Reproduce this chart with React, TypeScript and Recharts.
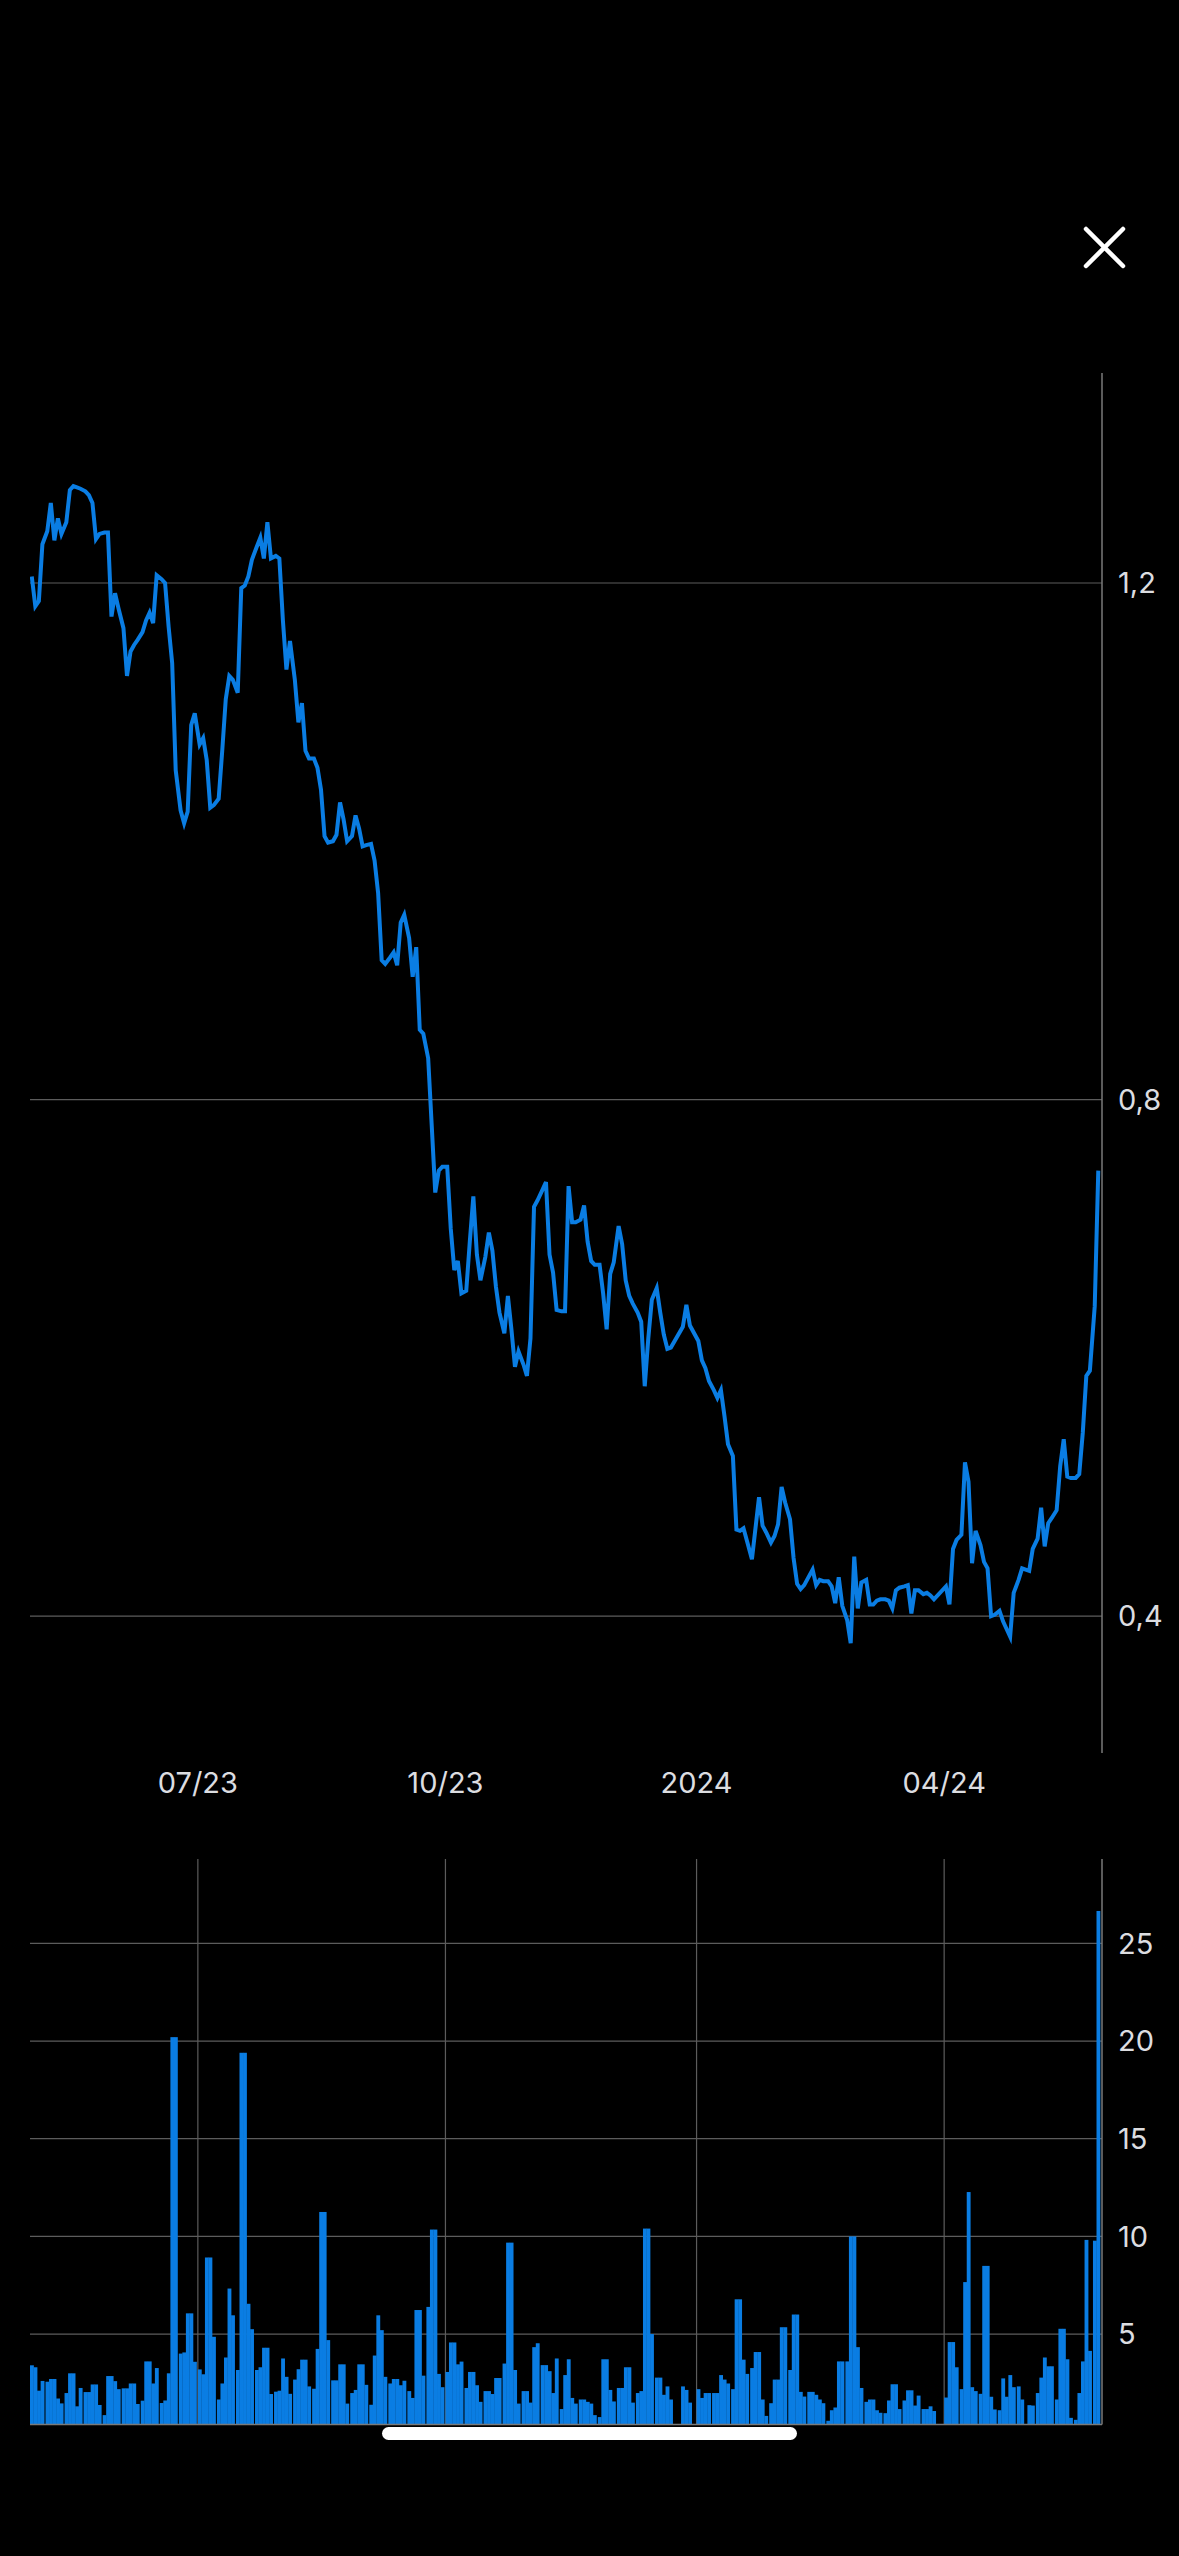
import React from 'react';
import { LineChart, Line, BarChart, Bar, XAxis, YAxis, CartesianGrid } from 'recharts';

const FIRST_DAY = '2023-05-02';
const LAST_DAY = '2024-05-28';
// exchange holidays inside the range (no quote, no volume)
const HOLIDAYS = ['2023-12-25', '2023-12-26', '2024-01-01', '2024-03-29', '2024-04-01', '2024-05-01'];

const QUARTER_STARTS = ['2023-07-03', '2023-10-02', '2024-01-02', '2024-04-02'];
const QUARTER_LABELS = ['07/23', '10/23', '2024', '04/24'];

const PRICE_TICKS = [0.4, 0.8, 1.2];
const VOLUME_TICKS = [5, 10, 15, 20, 25];

// closing prices, one per trading day
const priceQ2_23 = [
  1.205, 1.182, 1.186, 1.23,
  1.24, 1.262, 1.233, 1.25, 1.238,
  1.247, 1.272, 1.275, 1.274, 1.273,
  1.271, 1.268, 1.262, 1.234, 1.238,
  1.239, 1.239, 1.174, 1.192, 1.18,
  1.165, 1.128, 1.147, 1.152, 1.156,
  1.162, 1.171, 1.177, 1.169, 1.206,
  1.203, 1.2, 1.166, 1.138, 1.055,
  1.024, 1.014, 1.023, 1.09, 1.099,
];
const priceQ3_23 = [
  1.075, 1.08, 1.063, 1.026, 1.028,
  1.033, 1.07, 1.11, 1.128, 1.125,
  1.115, 1.196, 1.198, 1.205, 1.218,
  1.228, 1.235, 1.219, 1.247, 1.219,
  1.221, 1.219, 1.171, 1.133, 1.155,
  1.125, 1.092, 1.107, 1.07, 1.064,
  1.064, 1.057, 1.04, 1.004, 0.999,
  1.0, 1.005, 1.03, 1.017, 1.0,
  1.004, 1.02, 1.01, 0.996, 0.997,
  0.998, 0.985, 0.96, 0.908, 0.905,
  0.91, 0.914, 0.904, 0.937, 0.943,
  0.925, 0.895, 0.918, 0.854, 0.851,
  0.832, 0.78, 0.728, 0.745, 0.748,
];
const priceQ4_23 = [
  0.748, 0.7, 0.668, 0.675, 0.65,
  0.652, 0.69, 0.725, 0.68, 0.66,
  0.678, 0.697, 0.683, 0.655, 0.635,
  0.619, 0.648, 0.622, 0.593, 0.605,
  0.595, 0.586, 0.615, 0.717, 0.722,
  0.73, 0.736, 0.68, 0.666, 0.637,
  0.636, 0.636, 0.733, 0.705, 0.705,
  0.707, 0.718, 0.69, 0.675, 0.672,
  0.672, 0.65, 0.622, 0.665, 0.674,
  0.702, 0.688, 0.66, 0.648, 0.642,
  0.635, 0.628, 0.578, 0.615, 0.645,
  0.654, 0.635, 0.618, 0.607, 0.608,
  0.624, 0.641, 0.625,
];
const priceQ1_24 = [
  0.613, 0.598, 0.592, 0.582,
  0.575, 0.569, 0.575, 0.555, 0.533,
  0.524, 0.467, 0.466, 0.468, 0.458,
  0.444, 0.468, 0.492, 0.47, 0.465,
  0.457, 0.462, 0.471, 0.5, 0.488,
  0.475, 0.445, 0.425, 0.421, 0.424,
  0.431, 0.436, 0.424, 0.428, 0.427,
  0.427, 0.423, 0.41, 0.43, 0.408,
  0.397, 0.379, 0.446, 0.406, 0.426,
  0.428, 0.409, 0.409, 0.412, 0.413,
  0.413, 0.412, 0.406, 0.42, 0.422,
  0.423, 0.424, 0.402, 0.42, 0.42,
  0.417, 0.418, 0.416, 0.413,
];
const priceQ2_24 = [
  0.423, 0.409, 0.452, 0.459,
  0.463, 0.519, 0.504, 0.441, 0.466,
  0.455, 0.442, 0.437, 0.4, 0.401,
  0.404, 0.396, 0.39, 0.384, 0.418,
  0.428, 0.437, 0.435, 0.452,
  0.46, 0.484, 0.454, 0.472, 0.476,
  0.482, 0.516, 0.537, 0.508, 0.507,
  0.507, 0.51, 0.542, 0.586, 0.59,
  0.64, 0.745,
];

// traded volume (millions), one per trading day
const volumeQ2_23 = [
  3.4, 3.3, 2.1, 2.6,
  2.56, 2.7, 2.7, 1.7, 1.45,
  1.98, 2.99, 2.99, 1.3, 2.24,
  2.03, 2.03, 2.42, 2.42, 1.37,
  0.85, 2.85, 2.85, 2.59, 2.18,
  2.22, 2.22, 2.47, 2.47, 1.42,
  1.59, 3.6, 3.6, 2.47, 3.26,
  1.47, 1.6, 2.99, 20.2, 20.2,
  4.0, 4.06, 6.06, 6.06, 3.58,
];
const volumeQ3_23 = [
  3.19, 2.94, 8.92, 8.92, 4.86,
  1.65, 2.47, 3.8, 7.33, 5.96,
  3.16, 19.4, 19.4, 6.55, 5.25,
  3.16, 3.3, 4.3, 4.3, 1.93,
  2.05, 2.1, 3.75, 2.81, 1.94,
  2.67, 3.2, 3.69, 3.69, 2.32,
  2.2, 4.24, 11.25, 11.25, 4.69,
  2.63, 2.63, 3.45, 3.45, 1.44,
  1.98, 2.14, 3.45, 3.45, 2.4,
  1.38, 3.9, 5.96, 5.2, 2.81,
  2.47, 2.7, 2.7, 2.38, 2.61,
  2.08, 1.73, 6.23, 6.23, 2.87,
  6.39, 10.35, 10.35, 2.96, 2.28,
];
const volumeQ4_23 = [
  3.06, 4.57, 4.57, 3.45, 3.59,
  2.24, 3.06, 3.06, 2.38, 1.53,
  2.08, 2.08, 1.93, 2.75, 2.75,
  3.49, 9.68, 9.68, 3.16, 1.44,
  2.08, 2.08, 1.49, 4.33, 4.53,
  3.41, 3.41, 3.1, 1.98, 3.75,
  1.16, 2.9, 3.71, 1.73, 1.44,
  1.65, 1.65, 1.53, 1.44, 0.85,
  0.75, 3.71, 3.71, 2.14, 1.55,
  2.24, 2.24, 3.3, 3.3, 1.49,
  1.98, 2.08, 10.4, 10.4, 5.0,
  2.77, 2.77, 1.89, 2.32, 1.65,
  2.32, 2.14, 1.49,
];
const volumeQ1_24 = [
  2.18, 1.73, 1.98, 1.98,
  1.98, 1.98, 2.9, 2.67, 2.47,
  2.18, 6.78, 6.78, 3.69, 2.96,
  3.26, 4.08, 4.08, 1.65, 0.81,
  1.46, 2.67, 2.67, 5.35, 5.35,
  3.16, 6.0, 6.0, 2.04, 1.8,
  2.04, 2.04, 1.89, 1.65, 1.46,
  0.56, 1.1, 1.24, 3.6, 3.6,
  3.6, 10.0, 10.0, 4.33, 2.24,
  1.53, 1.65, 1.65, 1.1, 0.97,
  0.95, 1.6, 2.43, 2.43, 1.16,
  1.6, 2.12, 2.12, 1.34, 1.85,
  1.16, 1.16, 1.3, 1.06,
];
const volumeQ2_24 = [
  1.75, 4.59, 4.59, 3.3,
  2.18, 7.66, 12.27, 2.28, 2.08,
  1.94, 8.49, 8.49, 1.79, 1.14,
  1.1, 2.73, 1.79, 2.9, 2.28,
  2.32, 1.65, 1.36, 1.34,
  1.98, 2.77, 3.8, 3.35, 3.35,
  1.65, 5.27, 5.27, 3.71, 0.71,
  0.61, 1.98, 3.6, 9.82, 4.14,
  9.78, 26.66,
];

const BLUE = '#0a7de3';
const GRID = '#5c5c5c';
const AXIS = '#7a7a7a';
const LABEL = '#dcdde0';
const FONT = 'Inter, "Noto Sans", sans-serif';

// the app squeezes each weekend into a thin gap: 5 day slots + ~0.38 slot per week
const WEEK_SLOTS = 5.376;
const DAY_MS = 86400000;
const WEEK0 = Date.UTC(2023, 4, 1);

function slotOf(iso: string) {
  const t = Date.parse(iso + 'T00:00:00Z');
  const week = Math.floor((t - WEEK0) / (7 * DAY_MS));
  const wd = (new Date(t).getUTCDay() + 6) % 7;
  return week * WEEK_SLOTS + wd;
}

function tradingDays() {
  const out: string[] = [];
  const end = Date.parse(LAST_DAY + 'T00:00:00Z');
  for (let t = Date.parse(FIRST_DAY + 'T00:00:00Z'); t <= end; t += DAY_MS) {
    const iso = new Date(t).toISOString().slice(0, 10);
    const wd = new Date(t).getUTCDay();
    if (wd === 0 || wd === 6 || HOLIDAYS.includes(iso)) continue;
    out.push(iso);
  }
  return out;
}

const prices = [...priceQ2_23, ...priceQ3_23, ...priceQ4_23, ...priceQ1_24, ...priceQ2_24];
const volumes = [...volumeQ2_23, ...volumeQ3_23, ...volumeQ4_23, ...volumeQ1_24, ...volumeQ2_24];

const data = tradingDays().map((date, i) => ({
  date,
  u: slotOf(date),
  price: prices[i],
  volume: volumes[i],
}));

const X_DOMAIN: [number, number] = [data[0].u - 0.5, data[data.length - 1].u + 1.05];
const X_TICKS = QUARTER_STARTS.map((d) => slotOf(d) - 0.5);

const XTick = (props: any) => {
  const { x, y, payload } = props;
  const idx = X_TICKS.findIndex((t) => Math.abs(t - payload.value) < 0.01);
  return (
    <text x={x} y={y + 30} dy="0.35em" textAnchor="middle" fill={LABEL} fontSize={29} fontFamily={FONT}>
      {QUARTER_LABELS[idx]}
    </text>
  );
};

// volume chart keeps the quarter ticks (for its vertical grid) but shows no labels
const NoTick = () => <g />;

const PriceTick = (props: any) => {
  const { x, y, payload } = props;
  return (
    <text x={x} y={y} dy="0.35em" textAnchor="start" fill={LABEL} fontSize={29} fontFamily={FONT}>
      {Number(payload.value).toFixed(1).replace('.', ',')}
    </text>
  );
};

const VolumeTick = (props: any) => {
  const { x, y, payload } = props;
  return (
    <text x={x} y={y} dy="0.35em" textAnchor="start" fill={LABEL} fontSize={29} fontFamily={FONT}>
      {payload.value}
    </text>
  );
};

// bars within a week touch each other, so widen each one a hair to hide seams
const VolumeBar = (props: any) => {
  const { x, y, width, height } = props;
  if (!height || height <= 0) return null;
  return <rect x={x} y={y} width={width + 0.35} height={height} fill={BLUE} />;
};

export default function App() {
  return (
    <div style={{ position: 'relative', width: 1179, height: 2556, background: '#000', overflow: 'hidden' }}>
      <style>{'body{margin:0;background:#000}'}</style>

      {/* close button */}
      <svg style={{ position: 'absolute', left: 1080, top: 223 }} width={50} height={50}>
        <line x1={6} y1={6} x2={43} y2={43} stroke="#fff" strokeWidth={4.5} strokeLinecap="round" />
        <line x1={43} y1={6} x2={6} y2={43} stroke="#fff" strokeWidth={4.5} strokeLinecap="round" />
      </svg>

      <div style={{ position: 'absolute', left: 0, top: 340 }}>
        <LineChart width={1179} height={1473} data={data} margin={{ top: 33, right: 7, bottom: 0, left: 30 }}>
          <CartesianGrid vertical={false} syncWithTicks stroke={GRID} strokeWidth={1.2} />
          <XAxis
            type="number"
            dataKey="u"
            domain={X_DOMAIN}
            allowDataOverflow
            ticks={X_TICKS}
            interval={0}
            axisLine={false}
            tickLine={false}
            tickSize={0}
            tickMargin={0}
            height={60}
            tick={<XTick />}
          />
          <YAxis
            orientation="right"
            domain={[0.294, 1.3626]}
            allowDataOverflow
            ticks={PRICE_TICKS}
            interval={0}
            width={70}
            axisLine={{ stroke: AXIS, strokeWidth: 1.5 }}
            tickLine={false}
            tickSize={0}
            tickMargin={16}
            tick={<PriceTick />}
          />
          <Line type="linear" dataKey="price" stroke={BLUE} strokeWidth={4} dot={false} isAnimationActive={false} />
        </LineChart>
      </div>

      <div style={{ position: 'absolute', left: 0, top: 1840 }}>
        <BarChart width={1179} height={587} data={data} margin={{ top: 19, right: 7, bottom: 0, left: 30 }}>
          <CartesianGrid syncWithTicks stroke={GRID} strokeWidth={1.2} />
          <XAxis
            type="number"
            dataKey="u"
            domain={X_DOMAIN}
            allowDataOverflow
            ticks={X_TICKS}
            interval={0}
            axisLine={{ stroke: AXIS, strokeWidth: 1.5 }}
            tickLine={false}
            tickSize={0}
            tick={<NoTick />}
            height={2.5}
          />
          <YAxis
            orientation="right"
            domain={[0.37, 29.32]}
            allowDataOverflow
            ticks={VOLUME_TICKS}
            interval={0}
            width={70}
            axisLine={{ stroke: AXIS, strokeWidth: 1.5 }}
            tickLine={false}
            tickSize={0}
            tickMargin={16}
            tick={<VolumeTick />}
          />
          <Bar dataKey="volume" fill={BLUE} barSize={3.5} shape={<VolumeBar />} isAnimationActive={false} />
        </BarChart>
      </div>

      {/* home indicator */}
      <div
        style={{
          position: 'absolute',
          left: 382,
          top: 2427,
          width: 415,
          height: 13,
          borderRadius: 7,
          background: '#fff',
        }}
      />
    </div>
  );
}
